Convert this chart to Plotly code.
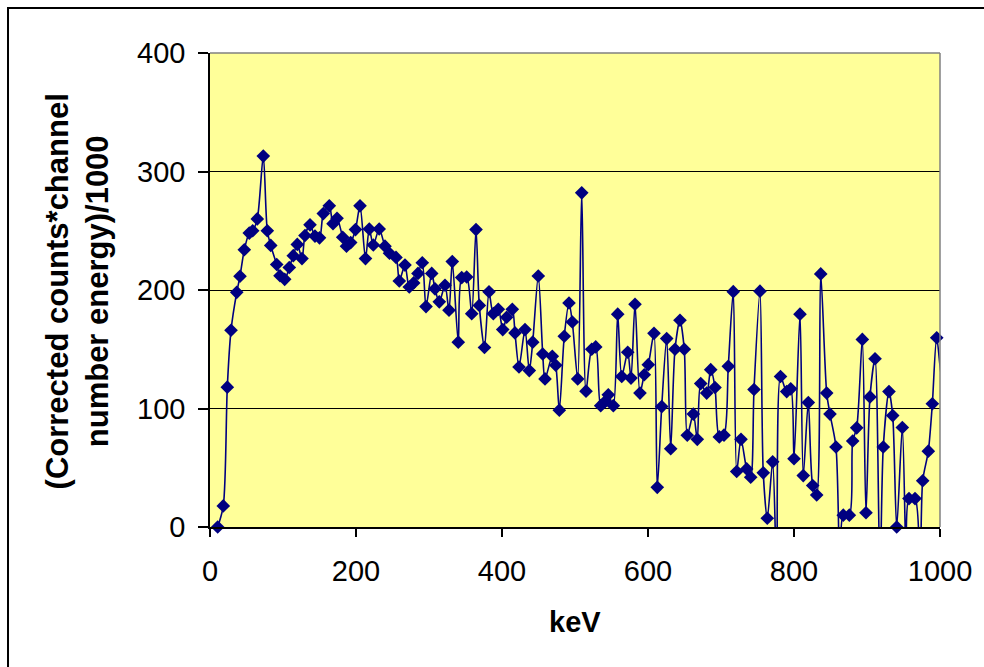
import plotly.graph_objects as go

# Energy (keV) of each data point
kev = [10.5, 18.2, 23.7, 28.8, 36.6, 41.1, 47.0, 53.8, 58.5, 64.8,
       73.0, 78.5, 83.2, 91.4, 95.9, 102.3, 108.6, 114.1, 119.6, 126.0,
       130.1, 137.0, 143.8, 150.0, 155.2, 163.4, 168.5, 174.0, 181.8, 187.0,
       192.7, 199.3, 205.5, 213.0, 218.2, 223.7, 231.8, 239.7, 245.9, 254.8,
       259.3, 267.1, 273.0, 279.0, 284.9, 290.8, 295.9, 303.7, 308.2, 314.1,
       321.9, 327.4, 331.9, 340.1, 344.8, 351.6, 358.5, 364.4, 368.9, 376.0,
       382.2, 388.1, 394.9, 401.0, 406.4, 414.1, 417.8, 423.3, 431.5, 437.4,
       442.1, 449.7, 455.8, 458.9, 468.9, 473.6, 478.5, 485.3, 491.8, 496.3,
       503.7, 509.2, 515.1, 522.9, 528.4, 535.2, 541.1, 545.6, 552.5, 558.5,
       564.0, 572.2, 576.7, 582.2, 589.0, 594.9, 600.4, 608.2, 612.7, 618.8,
       625.6, 631.1, 637.0, 643.8, 649.7, 653.8, 662.1, 667.5, 672.2, 680.4,
       685.9, 691.8, 697.7, 704.1, 710.0, 716.8, 721.5, 727.4, 735.2, 740.7,
       745.2, 753.4, 757.9, 763.4, 770.8, 776.3, 781.5, 790.0, 795.5, 800.0,
       808.2, 812.7, 819.6, 825.6, 831.1, 836.6, 844.8, 849.3, 857.5, 863.0,
       867.5, 875.8, 880.4, 885.9, 893.6, 898.6, 904.1, 911.0, 917.8, 922.3,
       930.1, 935.2, 940.7, 948.4, 954.1, 957.5, 965.8, 972.6, 976.3, 984.0,
       989.5, 995.5, 1002.7, 1008.2]

# (Corrected counts*channel number energy)/1000
counts = [0, 17.8, 118, 166, 198, 211.6, 234, 248, 250, 260,
          313, 250, 237.6, 221.5, 212, 209, 219, 229, 238.5, 226.5,
          246, 255, 245.5, 244, 264.5, 271, 256, 260.5, 244.5, 237,
          240, 251, 271, 226.5, 251.5, 238, 251.5, 237, 231, 227.5,
          207.6, 221, 202.5, 206, 214, 223, 186, 214, 201, 190,
          204, 183, 224, 156, 210.5, 211, 180, 251, 187, 151.5,
          198.5, 180, 183.7, 166.6, 177, 183.7, 163.8, 135, 166.6, 132,
          156, 211.8, 146, 125, 144, 136.5, 98.6, 161, 189, 173,
          125, 282, 114.6, 150, 152, 102.4, 105.8, 111.5, 102.4, 179.6,
          127, 147.5, 125.7, 188, 113, 128.5, 137, 163.4, 33.5, 101.6,
          159, 66, 150, 174.5, 150, 77.4, 95.3, 74, 121, 113,
          132.8, 117.7, 76, 77.5, 135.6, 198.6, 46.8, 74, 49, 42,
          116, 199, 45.7, 7.4, 55, -40, 127, 114.3, 116.6, 57.6,
          179.6, 43.4, 105, 35, 27, 213.6, 113, 95.3, 67.5, -40,
          10, 10, 72.6, 83.7, 158.3, 12, 109.8, 142, -40, 67.5,
          114.3, 94, 0, 84, -40, 24, 24, -40, 39, 64,
          104, 159.7, 125, 140]

y_ticks = [0, 100, 200, 300, 400]
x_ticks = [0, 200, 400, 600, 800, 1000]
x_title = "keV"
y_title = "(Corrected counts*channel<br>number energy)/1000"

NAVY = "#000080"
FONT = "Liberation Sans, Arial, sans-serif"

# markers only where the point lies inside the plotted range
mk_x = [k for k, c in zip(kev, counts) if c >= 0 and k <= 1000]
mk_y = [c for k, c in zip(kev, counts) if c >= 0 and k <= 1000]

fig = go.Figure()
fig.add_trace(go.Scatter(
    x=kev, y=counts, mode="lines",
    line=dict(color=NAVY, width=1.6, shape="spline", smoothing=0.8),
    hoverinfo="skip", showlegend=False,
))
fig.add_trace(go.Scatter(
    x=mk_x, y=mk_y, mode="markers",
    marker=dict(symbol="diamond", size=10.5, color=NAVY, line=dict(width=0)),
    cliponaxis=False, showlegend=False,
))

fig.update_layout(
    width=984, height=667,
    margin=dict(l=210, r=44, t=53, b=140),
    paper_bgcolor="white",
    plot_bgcolor="#FFFF99",
    font=dict(family=FONT, size=29, color="black"),
    showlegend=False,
    xaxis=dict(
        range=[0, 1000], tickvals=x_ticks, ticktext=[str(v) for v in x_ticks],
        showgrid=False, zeroline=False,
        showline=True, linecolor="black", linewidth=1.5,
        ticks="outside", ticklen=8, tickwidth=1.5, tickcolor="black",
        ticklabelstandoff=9,
        tickfont=dict(family=FONT, size=29, color="black"),
    ),
    yaxis=dict(
        range=[0, 400], tickvals=y_ticks, ticktext=[str(v) for v in y_ticks],
        showgrid=True, gridcolor="black", gridwidth=1.3, zeroline=False,
        showline=True, linecolor="black", linewidth=1.5,
        ticks="outside", ticklen=10, tickwidth=1.5, tickcolor="black",
        ticklabelstandoff=7,
        tickfont=dict(family=FONT, size=29, color="black"),
    ),
    shapes=[
        # plot-area frame (grey top/right edges)
        dict(type="line", xref="paper", yref="paper", x0=0, x1=1, y0=1, y1=1,
             line=dict(color="#808080", width=1.5), layer="above"),
        dict(type="line", xref="paper", yref="paper", x0=1, x1=1, y0=0, y1=1,
             line=dict(color="#808080", width=1.5), layer="above"),
        # chart outer border
        dict(type="rect", xref="paper", yref="paper",
             x0=-0.2767, x1=3, y0=-3, y1=1.0949,
             line=dict(color="black", width=2), fillcolor="rgba(0,0,0,0)"),
    ],
    annotations=[
        dict(text=y_title, xref="paper", yref="paper", x=-0.1822, y=0.497,
             xanchor="center", yanchor="middle", textangle=-90, showarrow=False,
             font=dict(family=FONT, size=31, color="black", weight="bold")),
        dict(text=x_title, xref="paper", yref="paper", x=0.5, y=-0.2004,
             xanchor="center", yanchor="middle", showarrow=False,
             font=dict(family=FONT, size=29, color="black", weight="bold")),
    ],
)

fig.write_html("out.html")
